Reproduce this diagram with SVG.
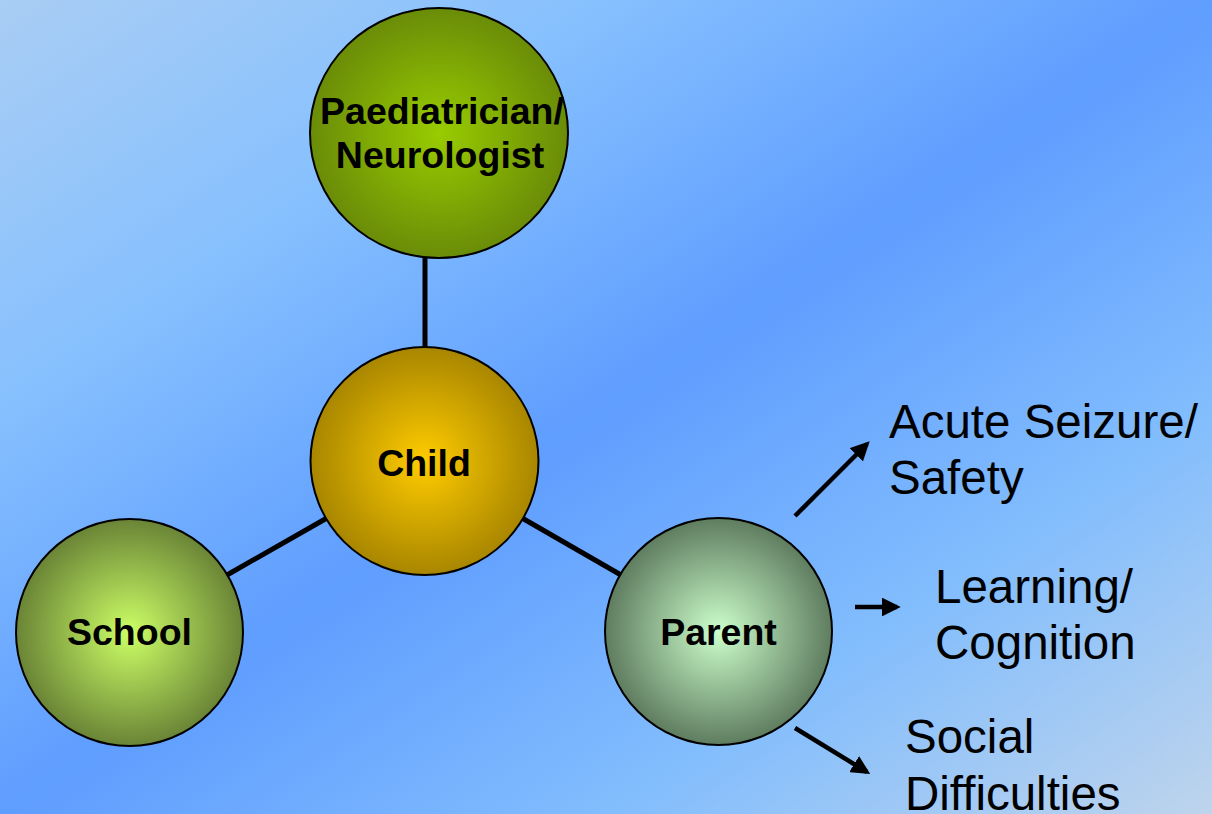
<svg xmlns="http://www.w3.org/2000/svg" width="1212" height="814" viewBox="0 0 1212 814">
  <defs>
    <linearGradient id="bg" x1="0" y1="0" x2="1" y2="1">
      <stop offset="0" stop-color="#a9cdf4"/>
      <stop offset="0.25" stop-color="#86c0fe"/>
      <stop offset="0.5" stop-color="#5f9dff"/>
      <stop offset="0.75" stop-color="#82bdfd"/>
      <stop offset="1" stop-color="#bed4ec"/>
    </linearGradient>
    <radialGradient id="gPaed" cx="0.5" cy="0.5" r="0.5">
      <stop offset="0" stop-color="#99cc00"/>
      <stop offset="1" stop-color="#6a8c08"/>
    </radialGradient>
    <radialGradient id="gChild" cx="0.5" cy="0.5" r="0.5">
      <stop offset="0" stop-color="#ffcc00"/>
      <stop offset="1" stop-color="#a88600"/>
    </radialGradient>
    <radialGradient id="gSchool" cx="0.5" cy="0.5" r="0.5">
      <stop offset="0" stop-color="#ccff66"/>
      <stop offset="1" stop-color="#6a8436"/>
    </radialGradient>
    <radialGradient id="gParent" cx="0.5" cy="0.5" r="0.5">
      <stop offset="0" stop-color="#ccffcc"/>
      <stop offset="1" stop-color="#5f7c5f"/>
    </radialGradient>
    <marker id="head" viewBox="0 0 10 10" refX="8" refY="5" markerWidth="4.2" markerHeight="4.2" orient="auto" markerUnits="strokeWidth">
      <path d="M0,0 L10,5 L0,10 z" fill="#000"/>
    </marker>
  </defs>
  <style>
    .node { stroke: #000; stroke-width: 2; }
    .label { font-family: "Liberation Sans", Arial, sans-serif; font-weight: bold; font-size: 37.5px; fill: #000; text-anchor: middle; }
    .topic { font-family: "Liberation Sans", Arial, sans-serif; font-size: 47.5px; fill: #000; }
    .link { stroke: #000; stroke-width: 5; fill: none; }
    .arrow { stroke: #000; stroke-width: 4.5; fill: none; marker-end: url(#head); }
  </style>

  <rect x="0" y="0" width="1212" height="814" fill="url(#bg)"/>

  <g id="connectors">
    <line class="link" x1="425" y1="256" x2="425" y2="349"/>
    <line class="link" x1="327" y1="518" x2="227" y2="575"/>
    <line class="link" x1="522" y1="518" x2="621" y2="575"/>
    <line class="arrow" x1="795" y1="516" x2="867" y2="444"/>
    <line class="arrow" x1="855" y1="607" x2="897" y2="607"/>
    <line class="arrow" x1="795" y1="728" x2="867" y2="772"/>
  </g>

  <g id="paediatrician">
    <ellipse class="node" cx="439" cy="133" rx="129" ry="125" fill="url(#gPaed)"/>
    <text class="label" x="442" y="124">Paediatrician/</text>
    <text class="label" x="440" y="168">Neurologist</text>
  </g>

  <g id="child">
    <circle class="node" cx="424.5" cy="461" r="114" fill="url(#gChild)"/>
    <text class="label" x="424" y="476">Child</text>
  </g>

  <g id="school">
    <circle class="node" cx="129.5" cy="632.5" r="113.5" fill="url(#gSchool)"/>
    <text class="label" x="129.5" y="645">School</text>
  </g>

  <g id="parent">
    <circle class="node" cx="718.5" cy="631.5" r="113.5" fill="url(#gParent)"/>
    <text class="label" x="718.5" y="645">Parent</text>
  </g>

  <g id="acute-seizure">
    <text class="topic" x="889" y="438">Acute Seizure/</text>
    <text class="topic" x="889" y="494">Safety</text>
  </g>

  <g id="learning">
    <text class="topic" x="935" y="603">Learning/</text>
    <text class="topic" x="935" y="659">Cognition</text>
  </g>

  <g id="social">
    <text class="topic" x="905" y="753">Social</text>
    <text class="topic" x="905" y="810">Difficulties</text>
  </g>
</svg>
